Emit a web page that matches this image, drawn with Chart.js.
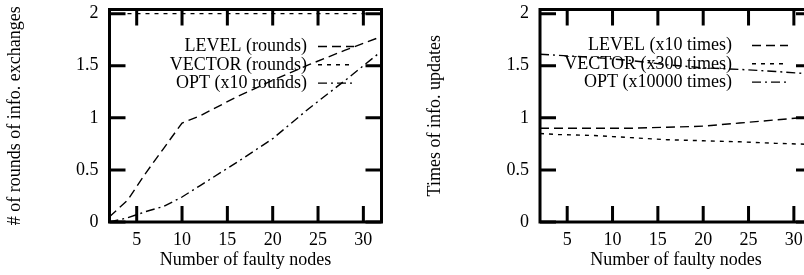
<!DOCTYPE html>
<html>
<head>
<meta charset="utf-8">
<script src="https://cdn.jsdelivr.net/npm/chart.js@4.4.1/dist/chart.umd.min.js"></script>
<style>
  html, body { margin: 0; padding: 0; background: #fff; }
  #wrap { position: relative; width: 804px; height: 275px; overflow: hidden; }
  #wrap canvas { position: absolute; top: 0; }
  #roundsChart { left: 0; }
  #updatesChart { left: 402px; }
</style>
</head>
<body>
<div id="wrap">
  <canvas id="roundsChart" width="402" height="275"></canvas>
  <canvas id="updatesChart" width="420" height="275"></canvas>
</div>
<script>
// x: number of faulty nodes
const faultyNodes = [2, 4, 6, 8, 10, 12, 16, 20, 24, 28, 32];

// left chart: rounds of info. exchanges
const roundsLevel  = [0.05, 0.21, 0.47, 0.71, 0.95, 1.02, 1.20, 1.36, 1.51, 1.65, 1.78];
const roundsVector = [2, 2, 2, 2, 2, 2, 2, 2, 2, 2, 2];
const roundsOpt    = [0, 0.04, 0.10, 0.15, 0.24, 0.35, 0.57, 0.80, 1.09, 1.36, 1.64];

// right chart: times of info. updates
const updLevel  = [0.90, 0.90, 0.90, 0.90, 0.90, 0.90, 0.91, 0.92, 0.95, 0.98, 1.01];
const updVector = [0.85, 0.84, 0.835, 0.83, 0.82, 0.81, 0.79, 0.78, 0.77, 0.755, 0.745];
const updOpt    = [1.61, 1.60, 1.59, 1.58, 1.565, 1.55, 1.51, 1.48, 1.465, 1.445, 1.42];

const xTicks = [5, 10, 15, 20, 25, 30];
const yTicks = [0, 0.5, 1, 1.5, 2];

const roundsLabels  = ['LEVEL (rounds)', 'VECTOR (rounds)', 'OPT (x10 rounds)'];
const updatesLabels = ['LEVEL (x10 times)', 'VECTOR (x300 times)', 'OPT (x10000 times)'];

const FONT = 'Liberation Serif';
const dashLevel = [9, 5];
const dashVector = [4, 5];
const dashOpt = [9, 4, 2, 4];
const TIC = 16;

function toPoints(ys) {
    return faultyNodes.map((x, i) => ({ x: x, y: ys[i] }));
}

function lineSet(label, ys, dash) {
    return {
        label: label,
        data: toPoints(ys),
        borderColor: '#000',
        borderWidth: 1.4,
        borderDash: dash,
        pointRadius: 0,
        tension: 0,
        fill: false
    };
}

// gnuplot-like frame with inward ticks on all four sides
const framePlugin = {
    id: 'frame',
    afterDatasetsDraw(chart) {
        const { ctx, chartArea: a, scales: { x, y } } = chart;
        ctx.save();
        ctx.strokeStyle = '#000';
        ctx.lineWidth = 3;
        ctx.setLineDash([]);
        ctx.beginPath();
        x.ticks.forEach(t => {
            const px = x.getPixelForValue(t.value);
            ctx.moveTo(px, a.bottom); ctx.lineTo(px, a.bottom - TIC);
            ctx.moveTo(px, a.top); ctx.lineTo(px, a.top + TIC);
        });
        y.ticks.forEach(t => {
            const py = y.getPixelForValue(t.value);
            ctx.moveTo(a.left, py); ctx.lineTo(a.left + TIC, py);
            ctx.moveTo(a.right, py); ctx.lineTo(a.right - TIC, py);
        });
        ctx.stroke();
        ctx.strokeRect(a.left, a.top, a.right - a.left, a.bottom - a.top);
        ctx.restore();
    }
};

// key: text right aligned, line sample on its right
const keyPlugin = {
    id: 'key',
    beforeDatasetsDraw(chart, args, opts) {
        const ctx = chart.ctx;
        ctx.save();
        ctx.font = '18px "' + FONT + '"';
        ctx.fillStyle = '#000';
        ctx.textAlign = 'right';
        ctx.textBaseline = 'middle';
        chart.data.datasets.forEach((ds, i) => {
            const yy = opts.top + i * opts.step;
            ctx.fillText(ds.label, opts.textRight, yy);
            ctx.strokeStyle = '#000';
            ctx.lineWidth = ds.borderWidth;
            ctx.setLineDash(ds.borderDash);
            ctx.beginPath();
            ctx.moveTo(opts.lineFrom, yy);
            ctx.lineTo(opts.lineTo, yy);
            ctx.stroke();
        });
        ctx.restore();
    }
};

function noEdgePadding(s) {
    s.paddingTop = 0;
    s.paddingBottom = 0;
    s.paddingLeft = 0;
    s.paddingRight = 0;
}

function makeChart(id, datasets, yTitle, yWidth, rightPad, key) {
    return new Chart(document.getElementById(id), {
        type: 'line',
        data: { datasets: datasets },
        plugins: [keyPlugin, framePlugin],
        options: {
            responsive: false,
            animation: false,
            devicePixelRatio: 1,
            layout: { padding: { left: 0, right: rightPad, top: 9.5, bottom: 0 } },
            plugins: {
                legend: { display: false },
                tooltip: { enabled: false },
                key: key
            },
            scales: {
                x: {
                    type: 'linear',
                    min: 2,
                    max: 32,
                    grid: { display: false, drawTicks: false },
                    border: { display: false },
                    afterBuildTicks: s => { s.ticks = xTicks.map(v => ({ value: v })); },
                    afterFit: s => { s.height = 53; noEdgePadding(s); },
                    ticks: {
                        color: '#000',
                        padding: 9,
                        maxRotation: 0,
                        font: { family: FONT, size: 18, lineHeight: 1 }
                    },
                    title: {
                        display: true,
                        text: 'Number of faulty nodes',
                        color: '#000',
                        padding: { top: 0, bottom: 4 },
                        font: { family: FONT, size: 18 }
                    }
                },
                y: {
                    min: 0,
                    max: 2.04,
                    grid: { display: false, drawTicks: false },
                    border: { display: false },
                    afterBuildTicks: s => { s.ticks = yTicks.map(v => ({ value: v })); },
                    afterFit: s => { s.width = yWidth; noEdgePadding(s); },
                    ticks: {
                        color: '#000',
                        padding: 11,
                        callback: v => String(v),
                        font: { family: FONT, size: 18, lineHeight: 1 }
                    },
                    title: {
                        display: true,
                        text: yTitle.text,
                        color: '#000',
                        padding: { top: yTitle.pad, bottom: 0 },
                        font: { family: FONT, size: 18 }
                    }
                }
            }
        }
    });
}

makeChart('roundsChart', [
    lineSet(roundsLabels[0], roundsLevel, dashLevel),
    lineSet(roundsLabels[1], roundsVector, dashVector),
    lineSet(roundsLabels[2], roundsOpt, dashOpt)
], { text: '# of rounds of info. exchanges', pad: 4 }, 109.5, 20.5,
   { textRight: 307, lineFrom: 318, lineTo: 354, top: 46.5, step: 18.3 });

makeChart('updatesChart', [
    lineSet(updatesLabels[0], updLevel, dashLevel),
    lineSet(updatesLabels[1], updVector, dashVector),
    lineSet(updatesLabels[2], updOpt, dashOpt)
], { text: 'Times of info. updates', pad: 22 }, 138, 10,
   { textRight: 330, lineFrom: 350, lineTo: 386, top: 45.5, step: 18.3 });
</script>
</body>
</html>
